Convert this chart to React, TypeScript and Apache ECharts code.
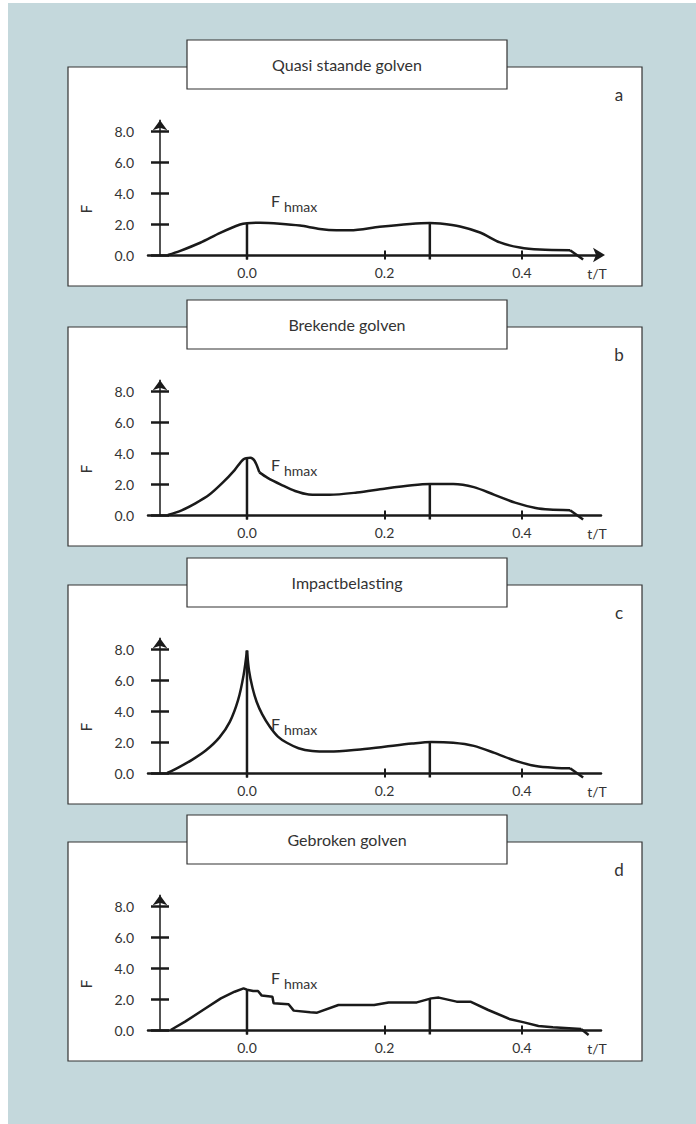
import React, { useEffect, useRef } from "react";
import * as echarts from "echarts";

// ---------- data ----------
const panelTitles = ["Quasi staande golven", "Brekende golven", "Impactbelasting", "Gebroken golven"];
const panelLetters = ["a", "b", "c", "d"];
const yTicks = [0, 2, 4, 6, 8];
const xTicks = [0, 0.2, 0.4];
const markerT = [0, 0.266];
const markerBottom = -0.29;

// panel a: quasi standing waves
const aCurve = [
  [-0.115, 0], [-0.098, 0.25], [-0.068, 0.79], [-0.039, 1.43], [-0.01, 1.97], [0.0, 2.05],
  [0.019, 2.08], [0.048, 2.02], [0.077, 1.9], [0.106, 1.68], [0.13, 1.6], [0.15, 1.6],
  [0.193, 1.82], [0.237, 2.0], [0.266, 2.06], [0.281, 2.03], [0.31, 1.84], [0.339, 1.45],
  [0.368, 0.81], [0.397, 0.48], [0.426, 0.35], [0.47, 0.31],
];
const aTail = [[0.47, 0.31], [0.489, -0.29]];
const aMarkers = [2.05, 2.06];

// panel b: breaking waves
const bRise = [
  [-0.115, 0], [-0.095, 0.3], [-0.075, 0.75], [-0.055, 1.3], [-0.035, 2.1], [-0.018, 2.9],
  [-0.005, 3.6], [0.005, 3.7], [0.011, 3.5], [0.018, 2.75],
];
const bFall = [
  [0.018, 2.75], [0.03, 2.4], [0.05, 1.95], [0.07, 1.55], [0.09, 1.33], [0.12, 1.3],
  [0.16, 1.45], [0.2, 1.7], [0.24, 1.92], [0.266, 2.0], [0.3, 2.0], [0.33, 1.8],
  [0.36, 1.3], [0.39, 0.8], [0.42, 0.45], [0.44, 0.35], [0.47, 0.31],
];
const bTail = [[0.47, 0.31], [0.489, -0.29]];
const bMarkers = [3.68, 2.0];

// panel c: impact load
const cRise = [
  [-0.116, 0], [-0.1, 0.35], [-0.08, 0.85], [-0.06, 1.45], [-0.04, 2.3], [-0.025, 3.3],
  [-0.013, 4.7], [-0.005, 6.3], [0, 7.9],
];
const cFall = [
  [0, 7.9], [0.003, 6.6], [0.008, 5.5], [0.014, 4.6], [0.022, 3.8], [0.033, 3.0],
  [0.045, 2.35], [0.058, 1.95], [0.075, 1.6], [0.095, 1.42], [0.12, 1.38], [0.16, 1.5],
  [0.2, 1.7], [0.24, 1.9], [0.268, 2.0], [0.3, 1.95], [0.33, 1.75], [0.36, 1.3],
  [0.39, 0.8], [0.42, 0.45], [0.45, 0.33], [0.47, 0.31],
];
const cTail = [[0.47, 0.31], [0.489, -0.29]];
const cMarkers = [7.9, 2.0];

// panel d: broken waves
const dCurve = [
  [-0.111, 0], [-0.09, 0.54], [-0.064, 1.29], [-0.038, 2.04], [-0.018, 2.47], [-0.005, 2.69],
  [0.0, 2.6], [0.009, 2.52], [0.016, 2.52], [0.0215, 2.22], [0.037, 2.15], [0.0387, 1.72],
  [0.0605, 1.66], [0.068, 1.25], [0.092, 1.14], [0.102, 1.12], [0.133, 1.61], [0.185, 1.61],
  [0.206, 1.78], [0.247, 1.78], [0.268, 2.04], [0.279, 2.09], [0.305, 1.83], [0.325, 1.83],
  [0.351, 1.29], [0.383, 0.69], [0.403, 0.49], [0.424, 0.26], [0.445, 0.17], [0.486, 0.06],
];
const dTail = [[0.486, 0.06], [0.497, -0.32]];
const dMarkers = [2.6, 2.05];

const panelSmooth = [[aCurve], [bRise, bFall], [cRise, cFall], []];
const panelSharp = [[aTail], [bTail], [cTail], [dCurve, dTail]];
const panelMarkers = [aMarkers, bMarkers, cMarkers, dMarkers];

// ---------- layout ----------
const PANEL_TOPS = [67, 327, 585, 842];
const FLABEL_OFF = [-55, -51, -50, -53];
const PANEL_H = 219;
const AXIS_OFF = 188;
const X_MIN = -0.144;
const X_MAX = 0.515;
const Y_MAX = 8.7;
const PX_PER_F = 15.5;
const INK = "#1a1a1a";
const TXT = "#333333";
const FONT = "Lato";

export default function App() {
  const ref = useRef<HTMLDivElement>(null);

  useEffect(() => {
    if (!ref.current) return;
    const chart = echarts.init(ref.current, undefined, { renderer: "svg" });

    const grid: any[] = [];
    const xAxis: any[] = [];
    const yAxis: any[] = [];
    const series: any[] = [];
    const graphic: any[] = [];

    graphic.push({
      type: "rect", z: -10, silent: true,
      shape: { x: 8, y: 3, width: 688, height: 1121 },
      style: { fill: "#c4d8dc" },
    });

    PANEL_TOPS.forEach((T, i) => {
      const axisY = T + AXIS_OFF;
      const gh = Y_MAX * PX_PER_F;
      grid.push({ left: 148, right: 95, top: axisY - gh, height: gh });

      const common = { gridIndex: i, type: "value", min: X_MIN, max: X_MAX, splitLine: { show: false } };
      xAxis.push({
        ...common,
        position: "bottom",
        axisLine: {
          show: true, onZero: false,
          symbol: i === 0 ? ["none", "arrow"] : ["none", "none"],
          symbolSize: [11, 12], symbolOffset: [0, 4],
          lineStyle: { color: INK, width: 2.5 },
        },
        axisTick: { show: true, inside: false, length: 4.5, customValues: xTicks, lineStyle: { color: INK, width: 2 } },
        axisLabel: {
          show: true, customValues: xTicks, margin: 10, fontSize: 14, color: TXT, fontFamily: FONT,
          formatter: (v: number) => v.toFixed(1),
        },
      });
      xAxis.push({
        ...common,
        position: "bottom",
        axisLine: { show: false, onZero: false },
        axisTick: { show: true, inside: true, length: 4.5, customValues: xTicks, lineStyle: { color: INK, width: 2 } },
        axisLabel: { show: false },
      });

      const ycommon = { gridIndex: i, type: "value", min: 0, max: Y_MAX, position: "left", offset: -12, splitLine: { show: false } };
      yAxis.push({
        ...ycommon,
        axisLine: {
          show: true, onZero: false, symbol: ["none", "arrow"], symbolSize: [11, 10],
          lineStyle: { color: INK, width: 1.5 },
        },
        axisTick: { show: true, inside: false, length: 9, customValues: yTicks, lineStyle: { color: INK, width: 2.5 } },
        axisLabel: {
          show: true, customValues: yTicks, margin: 26, fontSize: 14, color: TXT, fontFamily: FONT,
          formatter: (v: number) => v.toFixed(1),
        },
      });
      yAxis.push({
        ...ycommon,
        axisLine: { show: false, onZero: false },
        axisTick: { show: true, inside: true, length: 9, customValues: yTicks, lineStyle: { color: INK, width: 2.5 } },
        axisLabel: { show: false },
      });

      const base = {
        type: "line", xAxisIndex: 2 * i, yAxisIndex: 2 * i, symbol: "none", showSymbol: false,
        clip: false, silent: true, z: 5,
        lineStyle: { color: INK, width: 2.5 },
      };
      panelSmooth[i].forEach((d) => series.push({ ...base, data: d, smooth: 0.3 }));
      panelSharp[i].forEach((d) => series.push({ ...base, data: d, smooth: false }));
      markerT.forEach((t, k) => {
        series.push({ ...base, data: [[t, markerBottom], [t, panelMarkers[i][k]]], smooth: false });
      });

      // panel frame and title box
      graphic.push({
        type: "rect", z: -5, silent: true,
        shape: { x: 68, y: T, width: 574, height: PANEL_H },
        style: { fill: "#ffffff", stroke: "#333333", lineWidth: 1.2 },
      });
      graphic.push({
        type: "rect", z: -4, silent: true,
        shape: { x: 187, y: T - 27, width: 320, height: 49 },
        style: { fill: "#ffffff", stroke: "#333333", lineWidth: 1.2 },
      });
      graphic.push({
        type: "text", z: 20, silent: true, x: 347, y: T - 27 + 24.5,
        style: { text: panelTitles[i], font: `16px ${FONT}`, fill: TXT, align: "center", verticalAlign: "middle" },
      });
      graphic.push({
        type: "text", z: 20, silent: true, x: 619, y: T + 27,
        style: { text: panelLetters[i], font: `17px ${FONT}`, fill: TXT, align: "center", verticalAlign: "middle" },
      });
      graphic.push({
        type: "text", z: 20, silent: true, x: 597, y: axisY + 18,
        style: { text: "t/T", font: `14px ${FONT}`, fill: TXT, align: "center", verticalAlign: "middle" },
      });
      graphic.push({
        type: "text", z: 20, silent: true, x: 86, y: axisY - 46, rotation: Math.PI / 2,
        style: { text: "F", font: `15px ${FONT}`, fill: TXT, align: "center", verticalAlign: "middle" },
      });
      graphic.push({
        type: "text", z: 20, silent: true, x: 271, y: axisY + FLABEL_OFF[i],
        style: { text: "F", font: `16px ${FONT}`, fill: TXT, align: "left", verticalAlign: "middle" },
      });
      graphic.push({
        type: "text", z: 20, silent: true, x: 284, y: axisY + FLABEL_OFF[i] + 6,
        style: { text: "hmax", font: `14px ${FONT}`, fill: TXT, align: "left", verticalAlign: "middle" },
      });
    });

    chart.setOption({
      animation: false,
      backgroundColor: "#ffffff",
      textStyle: { fontFamily: FONT },
      grid, xAxis, yAxis, series, graphic,
    });

    return () => chart.dispose();
  }, []);

  return <div ref={ref} style={{ position: "absolute", left: 0, top: 0, width: 696, height: 1124 }} />;
}
